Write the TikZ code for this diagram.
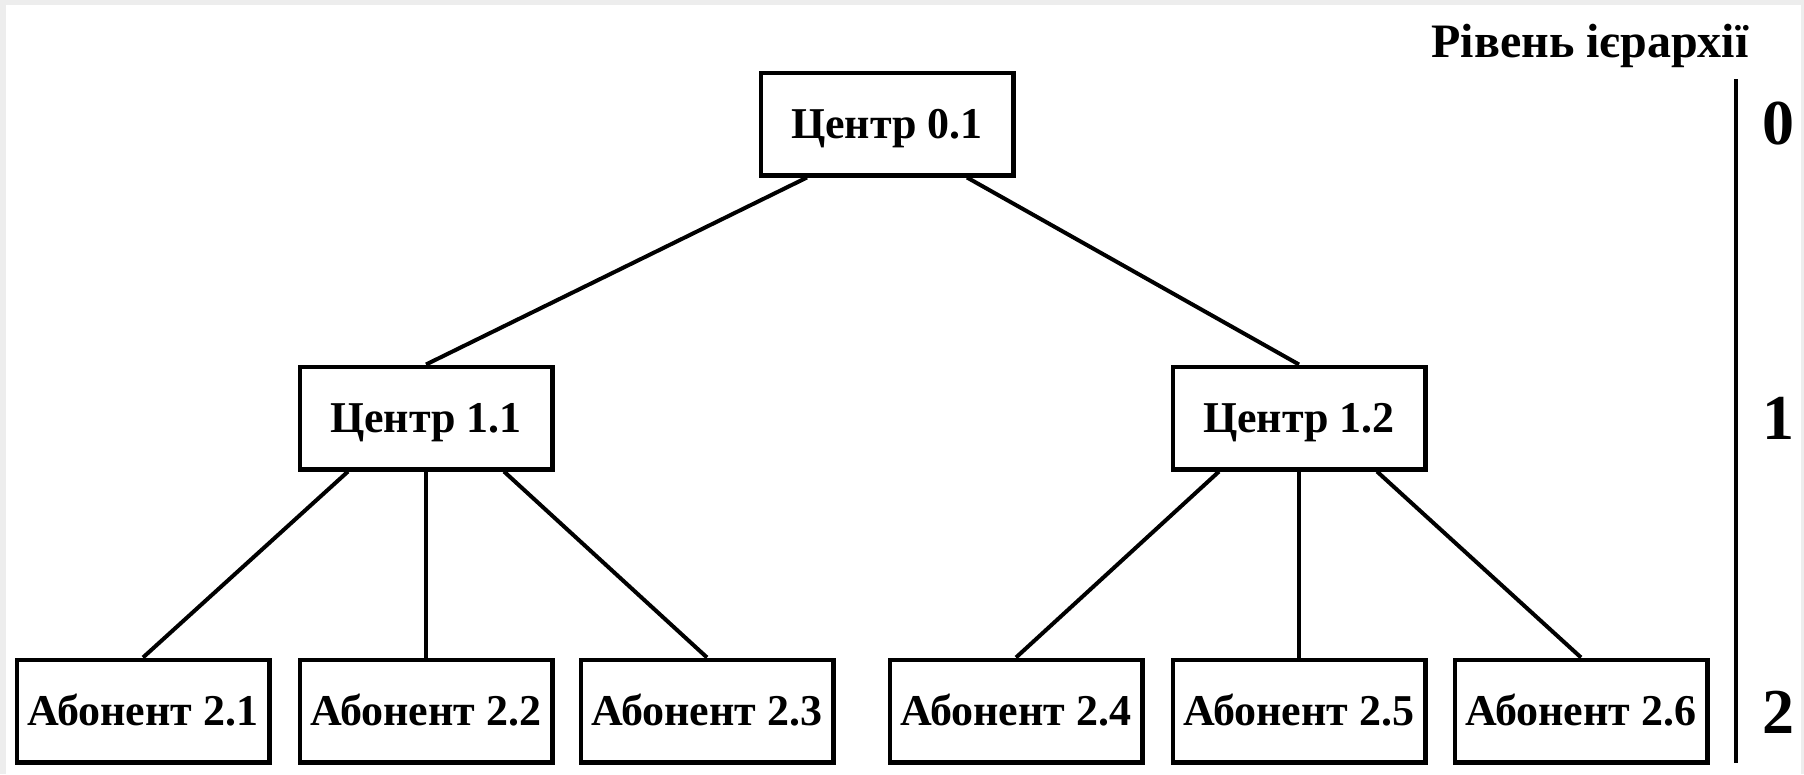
\documentclass[tikz,border=0pt]{standalone}
\usepackage{fontspec}
\setmainfont{Liberation Serif}
\begin{document}
\begin{tikzpicture}[x=1pt,y=-1pt,
  box/.style={draw,line width=4.5pt,minimum width=252.5pt,minimum height=102.5pt,
    inner sep=0pt,font=\fontsize{44}{50}\selectfont\bfseries,
    text height=29pt,text depth=0pt},
  link/.style={line width=4pt},
  lvl/.style={font=\fontsize{64}{70}\selectfont\bfseries,inner sep=0pt},
  head/.style={font=\fontsize{48}{56}\selectfont\bfseries,inner sep=0pt}]
\useasboundingbox (0,0) rectangle (1804,774);
% page edge: faint grey frame
\fill[black!7] (0,0) rectangle (1804,774);
\fill[white] (6,5) rectangle (1801,774);

% hierarchy levels
\node[box] (c01) at (887,124) {Центр 0.1};
\node[box] (c11) at (426,418) {Центр 1.1};
\node[box] (c12) at (1299,418) {Центр 1.2};
\node[box] (a21) at (143,711) {Абонент 2.1};
\node[box] (a22) at (426,711) {Абонент 2.2};
\node[box] (a23) at (707,711) {Абонент 2.3};
\node[box] (a24) at (1016,711) {Абонент 2.4};
\node[box] (a25) at (1299,711) {Абонент 2.5};
\node[box] (a26) at (1581,711) {Абонент 2.6};

% links between levels
\draw[link] ([xshift=-80pt]c01.south) -- (c11.north);
\draw[link] ([xshift=80pt]c01.south) -- (c12.north);
\draw[link] ([xshift=-78pt]c11.south) -- (a21.north);
\draw[link] (c11.south) -- (a22.north);
\draw[link] ([xshift=78pt]c11.south) -- (a23.north);
\draw[link] ([xshift=-80pt]c12.south) -- (a24.north);
\draw[link] (c12.south) -- (a25.north);
\draw[link] ([xshift=78pt]c12.south) -- (a26.north);

% level scale on the right
\node[head,anchor=base] (title) at (1590,57) {Рівень ієрархії};
\coordinate (st) at (1736,79);
\coordinate (sb) at (1736,763);
\draw[link] (st) -- (sb);
\node[lvl] (l0) at (1778,124) {0};
\node[lvl] (l1) at (1778,418) {1};
\node[lvl] (l2) at (1778,712) {2};
\end{tikzpicture}
\end{document}
